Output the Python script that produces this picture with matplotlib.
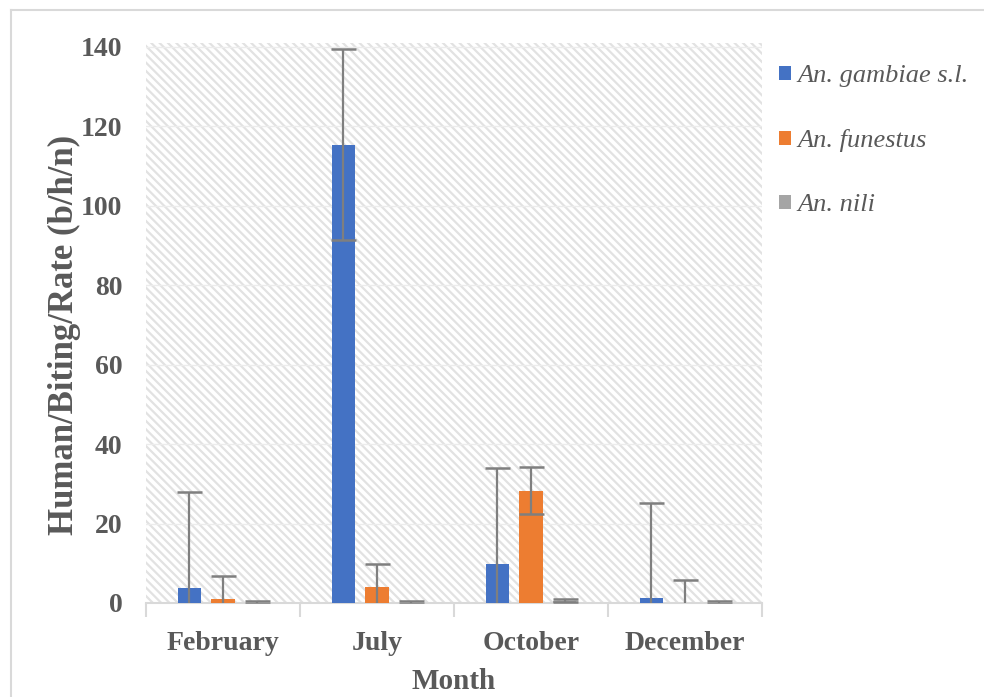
import matplotlib
matplotlib.use('Agg')

import matplotlib.pyplot as plt
from matplotlib.lines import Line2D
import numpy as np

# Monthly human biting rate per species
months = ['February', 'July', 'October', 'December']
species = ['An. gambiae s.l.', 'An. funestus', 'An. nili']
gambiae = [3.8, 115.4, 9.8, 1.2]
funestus = [0.9, 4.0, 28.3, 0.0]
nili = [0.1, 0.1, 0.6, 0.1]
gambiae_sd = 24.1
funestus_sd = 5.9
nili_sd = 0.3
y_ticks = [0, 20, 40, 60, 80, 100, 120, 140]

colors = ['#4472C4', '#ED7D31', '#A5A5A5']
text_color = '#595959'
line_color = '#d9d9d9'

plt.rcParams['font.family'] = ['Liberation Serif', 'DejaVu Serif']
plt.rcParams['hatch.color'] = '#e2e2e2'
plt.rcParams['hatch.linewidth'] = 1.6

fig = plt.figure(figsize=(9.84, 6.97), dpi=100)
ax = fig.add_axes([146 / 984, 1 - 603 / 697, 616 / 984, 560 / 697])

# hatched plot background
ax.patch.set_facecolor('white')
ax.patch.set_edgecolor('#e2e2e2')
ax.patch.set_hatch('\\\\\\\\')
ax.patch.set_linewidth(0)

x = np.arange(len(months))
width = 0.15
offsets = [-0.22, 0.0, 0.22]
series = [gambiae, funestus, nili]
errors = [gambiae_sd, funestus_sd, nili_sd]

for vals, err, off, col, name in zip(series, errors, offsets, colors, species):
    ax.bar(x + off, vals, width, color=col, label=name, zorder=3,
           yerr=err, error_kw=dict(ecolor='#7f7f7f', elinewidth=1.6,
                                   capsize=9, capthick=1.8, zorder=4))

ax.set_xlim(-0.5, 3.5)
ax.set_ylim(0, 141)
ax.set_yticks(y_ticks)
ax.yaxis.grid(True, color='#ececec', linewidth=1, zorder=1)
ax.set_axisbelow(True)

for side in ['top', 'right', 'left']:
    ax.spines[side].set_visible(False)
ax.spines['bottom'].set_color(line_color)
ax.spines['bottom'].set_linewidth(1.5)

ax.set_xticks(x)
ax.set_xticklabels(months)
ax.set_xticks(np.arange(-0.5, 4.0, 1.0), minor=True)
ax.tick_params(axis='x', which='major', length=0, pad=20,
               labelsize=20, labelcolor=text_color)
ax.tick_params(axis='x', which='minor', length=10, width=1.5, color=line_color)
ax.tick_params(axis='y', length=0, pad=17, labelsize=20, labelcolor=text_color)
for lbl in ax.get_xticklabels() + ax.get_yticklabels():
    lbl.set_fontweight('bold')

ax.set_xlabel('Month', fontsize=21, fontweight='bold', color=text_color, labelpad=9)
ax.set_ylabel('Human/Biting/Rate (b/h/n)', fontsize=25, fontweight='bold',
              color=text_color)
ax.yaxis.set_label_coords(-0.105, 0.478)

fig.legend(loc='upper left', bbox_to_anchor=(779 / 984, 1 - 65 / 697),
           frameon=False, borderpad=0, borderaxespad=0,
           handlelength=0.45, handleheight=0.45,
           handletextpad=0.25, labelspacing=1.6,
           prop=dict(size=19, style='italic'), labelcolor=text_color)

# light frame around the chart area
fig.add_artist(Line2D([11 / 984, 1.0], [1 - 10 / 697, 1 - 10 / 697],
                      transform=fig.transFigure, color=line_color, linewidth=1.5))
fig.add_artist(Line2D([11 / 984, 11 / 984], [0.0, 1 - 10 / 697],
                      transform=fig.transFigure, color=line_color, linewidth=1.5))

fig.savefig('out.png', dpi=100)
